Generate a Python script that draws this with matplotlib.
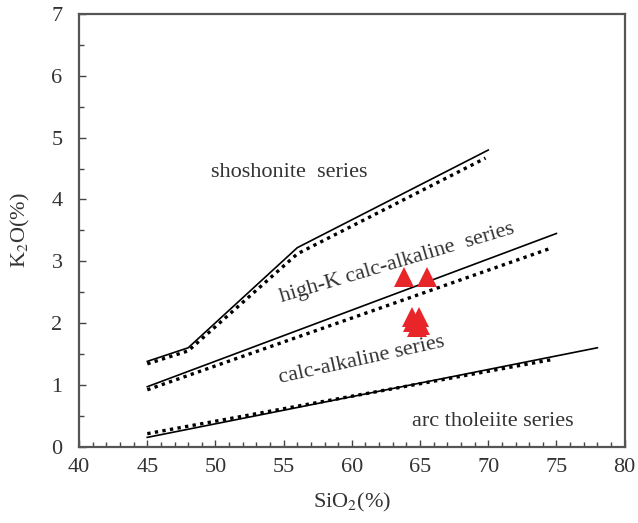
import matplotlib.pyplot as plt
from matplotlib.ticker import MultipleLocator

plt.rcParams['font.family'] = ['Liberation Serif', 'DejaVu Serif']
plt.rcParams['mathtext.fontset'] = 'stix'

# boundary lines (solid and dotted versions)
sho_x = [45, 48, 56, 70]
sho_y = [1.38, 1.60, 3.22, 4.80]
sho_dot_x = [45, 48, 56, 69.8]
sho_dot_y = [1.34, 1.55, 3.12, 4.67]

hk_x = [45, 75]
hk_y = [0.97, 3.45]
hk_dot_x = [45, 74.7]
hk_dot_y = [0.92, 3.22]

ca_x = [45, 78]
ca_y = [0.15, 1.60]
ca_dot_x = [45, 74.7]
ca_dot_y = [0.21, 1.41]

# samples
sio2 = [63.8, 65.5, 64.4, 64.9, 64.5, 65.0, 64.8]
k2o = [2.75, 2.75, 2.10, 2.10, 2.02, 1.97, 1.94]

fig = plt.figure(figsize=(6.38, 5.23), dpi=100)
ax = fig.add_axes([0.124, 0.146, 0.855, 0.827])

ax.plot(sho_x, sho_y, color='black', lw=1.2)
ax.plot(sho_dot_x, sho_dot_y, color='black', lw=2.4, linestyle=(0, (1, 1.3)))
ax.plot(hk_x, hk_y, color='black', lw=1.2)
ax.plot(hk_dot_x, hk_dot_y, color='black', lw=2.4, linestyle=(0, (1, 1.3)))
ax.plot(ca_x, ca_y, color='black', lw=1.2)
ax.plot(ca_dot_x, ca_dot_y, color='black', lw=2.4, linestyle=(0, (1, 1.3)))

ax.plot(sio2, k2o, linestyle='none', marker='^', markersize=14,
        color='#e8262a', markeredgewidth=0)

txt = dict(color='#333333', fontsize=16, ha='center', va='center')
ax.text(55.4, 4.43, 'shoshonite  series', **txt)
ax.text(63.3, 2.97, 'high-K calc-alkaline  series', rotation=16.5, **txt)
ax.text(60.7, 1.40, 'calc-alkaline series', rotation=12.5, **txt)
ax.text(70.3, 0.40, 'arc tholeiite series', **txt)

ax.set_xlim(40, 80)
ax.set_ylim(0, 7)
ax.xaxis.set_major_locator(MultipleLocator(5))
ax.xaxis.set_minor_locator(MultipleLocator(1))
ax.yaxis.set_major_locator(MultipleLocator(1))
ax.yaxis.set_minor_locator(MultipleLocator(0.5))
ax.tick_params(which='both', direction='in', labelsize=16, colors='#444444',
               labelcolor='#333333')
ax.tick_params(which='major', length=5, width=1)
ax.tick_params(which='minor', length=3.5, width=1)
ax.tick_params(axis='x', pad=8)
ax.tick_params(axis='y', pad=12)
for s in ax.spines.values():
    s.set_color('#555555')
    s.set_linewidth(1.6)

ax.set_xlabel('SiO$_2$(%)', fontsize=16, color='#333333', labelpad=10)
ax.set_ylabel('K$_2$O(%)', fontsize=16, color='#333333', labelpad=14)

fig.savefig('out.png', dpi=100)
